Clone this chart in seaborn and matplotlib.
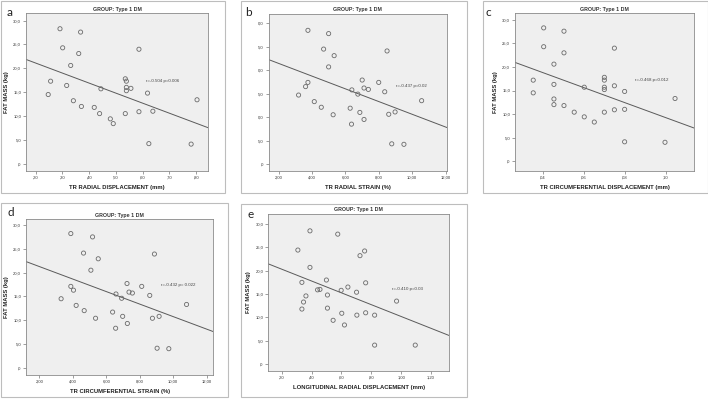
import matplotlib
matplotlib.use("Agg")
import matplotlib.pyplot as plt
import seaborn as sns
import pandas as pd
from matplotlib.patches import Rectangle

# ---------------- data ----------------
tr_radial_disp = [0.247, 0.256, 0.291, 0.301, 0.316, 0.331, 0.341, 0.361, 0.368, 0.371,
                  0.419, 0.439, 0.444, 0.479, 0.490, 0.535, 0.539, 0.539, 0.539, 0.535,
                  0.556, 0.586, 0.586, 0.618, 0.623, 0.638, 0.781, 0.803]
fat_mass_a = [14.5, 17.3, 28.3, 24.3, 16.4, 20.6, 13.2, 23.1, 27.6, 12.0,
              11.8, 10.5, 15.7, 9.4, 8.4, 17.8, 17.3, 16.0, 15.3, 10.5,
              15.8, 24.0, 10.9, 14.8, 4.2, 11.0, 4.1, 13.4]

tr_radial_strain = [3.19, 3.61, 3.75, 3.75, 4.13, 4.55, 4.69, 4.99, 4.99, 5.26,
                    5.32, 6.28, 6.36, 6.38, 6.74, 6.86, 7.00, 7.11, 7.11, 7.37,
                    7.99, 8.35, 8.49, 8.59, 8.77, 8.97, 9.50, 10.56]
fat_mass_b = [14.7, 16.5, 17.4, 28.5, 13.3, 12.1, 24.5, 27.8, 20.7, 10.5,
              23.1, 11.9, 8.5, 15.8, 14.9, 11.0, 17.9, 9.5, 16.2, 15.9,
              17.4, 15.4, 24.1, 10.6, 4.3, 11.1, 4.2, 13.5]

tr_circ_disp = [0.0354, 0.0354, 0.0405, 0.0405, 0.0455, 0.0455, 0.0455, 0.0455, 0.0504, 0.0504,
                0.0504, 0.0554, 0.0603, 0.0603, 0.0652, 0.0701, 0.0701, 0.0701, 0.0701, 0.0701,
                0.0750, 0.0750, 0.0750, 0.0800, 0.0800, 0.0800, 0.0997, 0.1046]
fat_mass_c = [14.5, 17.2, 28.3, 24.3, 20.6, 16.3, 13.2, 12.0, 27.6, 23.0,
              11.8, 10.4, 15.7, 9.4, 8.3, 17.8, 17.2, 15.7, 15.2, 10.4,
              24.0, 16.0, 10.9, 14.8, 11.0, 4.1, 4.0, 13.3]

tr_circ_strain = [3.30, 3.88, 3.88, 4.04, 4.20, 4.64, 4.68, 5.18, 5.08, 5.36,
                  5.52, 6.38, 6.58, 6.56, 6.92, 6.98, 7.24, 7.26, 7.36, 7.56,
                  8.12, 8.60, 8.76, 8.88, 9.04, 9.16, 9.74, 10.80]
fat_mass_d = [14.5, 28.2, 17.1, 16.3, 13.1, 24.1, 12.0, 27.5, 20.5, 10.4,
              22.9, 11.7, 15.5, 8.3, 14.6, 10.8, 17.7, 9.3, 15.9, 15.7,
              17.1, 15.2, 10.4, 23.9, 4.1, 10.8, 4.0, 13.3]

long_radial_disp = [0.308, 0.335, 0.335, 0.346, 0.362, 0.389, 0.389, 0.440, 0.456, 0.499,
                    0.506, 0.506, 0.544, 0.575, 0.598, 0.602, 0.620, 0.643, 0.701, 0.703,
                    0.724, 0.755, 0.762, 0.762, 0.822, 0.822, 0.969, 1.094]
fat_mass_e = [24.4, 17.5, 11.8, 13.3, 14.6, 28.5, 20.7, 15.9, 16.0, 18.0,
              14.8, 12.0, 9.4, 27.8, 15.8, 10.9, 8.4, 16.5, 15.4, 10.5,
              23.2, 24.2, 17.4, 11.0, 10.5, 4.1, 13.5, 4.1]

fat_ticks = [0, 5, 10, 15, 20, 25, 30]
fat_tick_labels = [",0", "5,0", "10,0", "15,0", "20,0", "25,0", "30,0"]
fat_tick_labels_b = [",0", "5,0", "0,0", "5,0", "0,0", "5,0", "0,0"]  # cropped in the source

ticks_a = [0.2, 0.3, 0.4, 0.5, 0.6, 0.7, 0.8]
tick_labels_a = [",20", ",30", ",40", ",50", ",60", ",70", ",80"]
ticks_strain = [2, 4, 6, 8, 10, 12]
tick_labels_strain = ["2,00", "4,00", "6,00", "8,00", "10,00", "12,00"]
ticks_c = [0.04, 0.06, 0.08, 0.10]
tick_labels_c = [",04", ",06", ",08", ",10"]
ticks_e = [0.2, 0.4, 0.6, 0.8, 1.0, 1.2]
tick_labels_e = [",20", ",40", ",60", ",80", "1,00", "1,20"]

panel_letters = ["a", "b", "c", "d", "e"]
x_labels = ["TR RADIAL DISPLACEMENT (mm)", "TR RADIAL STRAIN (%)",
            "TR CIRCUMFERENTIAL DISPLACEMENT (mm)", "TR CIRCUMFERENTIAL STRAIN (%)",
            "LONGITUDINAL RADIAL DISPLACEMENT (mm)"]
y_label = "FAT MASS (kg)"
group_title = "GROUP: Type 1 DM"
stats_text = ["r=-0.504 p=0.006", "r=-0.437 p=0.02", "r=-0.468 p=0.012",
              "r=-0.432 p= 0.022", "r=-0.410 p=0.03"]

# ---------------- figure ----------------
sns.set_theme(style="white")
plt.rcParams["font.family"] = ["Liberation Sans", "DejaVu Sans"]

W, H = 708, 399
fig = plt.figure(figsize=(W / 100, H / 100), dpi=100)
fig.patch.set_facecolor("white")

# layout in pixels: plot area (x0, x1, y0, y1), outer frame (x0, y0, x1, y1)
panels = [
    dict(x=tr_radial_disp, y=fat_mass_a, area=(26, 208, 13.3, 171), frame=(0.5, 0.5, 225, 192.7),
         xlim=(0.164, 0.844), ylim=(-1.54, 31.54), xt=ticks_a, xtl=tick_labels_a,
         ytl=fat_tick_labels, ylab=True, letter=(7, 13), stat=(0.658, 0.571)),
    dict(x=tr_radial_strain, y=fat_mass_b, area=(268.7, 447, 14, 171), frame=(241.3, 0.5, 466.7, 192.7),
         xlim=(1.40, 12.08), ylim=(-1.49, 31.98), xt=ticks_strain, xtl=tick_labels_strain,
         ytl=fat_tick_labels_b, ylab=False, letter=(245, 13), stat=(0.714, 0.541)),
    dict(x=tr_circ_disp, y=fat_mass_c, area=(515, 694.3, 13.3, 171), frame=(483.3, 0.5, 707.5, 192.7),
         xlim=(0.0265, 0.114), ylim=(-2.1, 31.4), xt=ticks_c, xtl=tick_labels_c,
         ytl=fat_tick_labels, ylab=True, letter=(485, 13), stat=(0.672, 0.580)),
    dict(x=tr_circ_strain, y=fat_mass_d, area=(26, 213.3, 219.3, 375), frame=(0.5, 203.3, 227.7, 397),
         xlim=(1.2, 12.4), ylim=(-1.53, 31.2), xt=ticks_strain, xtl=tick_labels_strain,
         ytl=fat_tick_labels, ylab=True, letter=(7, 213), stat=(0.721, 0.578)),
    dict(x=long_radial_disp, y=fat_mass_e, area=(268.3, 449, 214, 371), frame=(241.3, 204, 466.7, 397),
         xlim=(0.11, 1.32), ylim=(-1.43, 32.1), xt=ticks_e, xtl=tick_labels_e,
         ytl=fat_tick_labels, ylab=True, letter=(248, 214), stat=(0.685, 0.522)),
]

for i, p in enumerate(panels):
    fx0, fy0, fx1, fy1 = p["frame"]
    fig.patches.append(Rectangle((fx0 / W, 1 - fy1 / H), (fx1 - fx0) / W, (fy1 - fy0) / H,
                                 transform=fig.transFigure, fill=False,
                                 edgecolor="#bdbdbd", linewidth=0.8, zorder=0))
    x0, x1, y0, y1 = p["area"]
    ax = fig.add_axes([x0 / W, 1 - y1 / H, (x1 - x0) / W, (y1 - y0) / H])
    ax.set_facecolor("#efefef")
    ax.set_xlim(*p["xlim"])
    ax.set_ylim(*p["ylim"])
    df = pd.DataFrame({"x": p["x"], "y": p["y"]})
    sns.regplot(data=df, x="x", y="y", ax=ax, ci=None, truncate=False,
                scatter_kws=dict(facecolors="none", edgecolors="#6a6a6a", s=9,
                                 linewidths=0.6, alpha=1, zorder=3),
                line_kws=dict(color="#5a5a5a", linewidth=0.7))
    ax.set_xlim(*p["xlim"])
    ax.set_ylim(*p["ylim"])
    ax.set_xticks(p["xt"])
    ax.set_xticklabels(p["xtl"])
    ax.set_yticks(fat_ticks)
    ax.set_yticklabels(p["ytl"])
    ax.tick_params(axis="both", direction="out", length=2, width=0.5, color="#777777",
                   labelsize=3.0, labelcolor="#333333", pad=1.5,
                   bottom=True, left=True)
    for s in ax.spines.values():
        s.set_color("#8a8a8a")
        s.set_linewidth(0.6)
    ax.set_xlabel(x_labels[i], fontsize=4.2, fontweight="bold", color="#222222", labelpad=3.5)
    if p["ylab"]:
        ax.set_ylabel(y_label, fontsize=4.2, fontweight="bold", color="#222222", labelpad=3)
    else:
        ax.set_ylabel("")
    ax.set_title(group_title, fontsize=3.8, fontweight="bold", color="#333333", pad=2)
    ax.text(p["stat"][0], p["stat"][1], stats_text[i], transform=ax.transAxes,
            fontsize=3.2, color="#444444", ha="left", va="center")
    lx, ly = p["letter"]
    fig.text(lx / W, 1 - ly / H, panel_letters[i], fontsize=8.5, color="#222222",
             family=["Lato", "DejaVu Sans"], ha="left", va="center")

fig.savefig("out.png", dpi=100)
